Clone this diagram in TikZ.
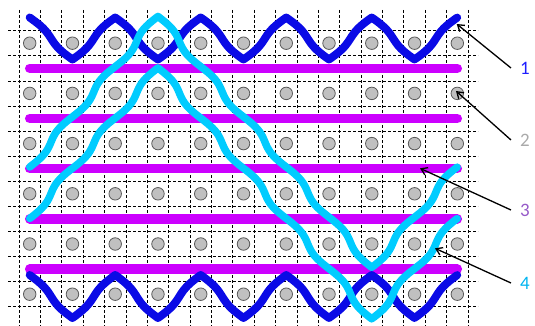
\documentclass[tikz,border=0pt]{standalone}
\usepackage{fontspec}
\setmainfont{Carlito}
\usetikzlibrary{arrows.meta}
\definecolor{thrblue}{RGB}{10,10,230}
\definecolor{thrcyan}{RGB}{0,204,255}
\definecolor{thrpurple}{RGB}{204,0,255}
\definecolor{pinfill}{RGB}{192,192,192}
\definecolor{pinline}{RGB}{90,90,90}
\definecolor{labone}{RGB}{30,30,255}
\definecolor{labtwo}{RGB}{170,170,170}
\definecolor{labthree}{RGB}{150,90,200}
\definecolor{labfour}{RGB}{0,180,240}
\begin{document}
\begin{tikzpicture}[x=1pt,y=-1pt,
  gridline/.style={black, dash pattern=on 3pt off 2pt, line width=0.7pt},
  pin/.style={circle, fill=pinfill, draw=pinline, line width=0.8pt, minimum size=12.5pt, inner sep=0pt},
  weft/.style={thrpurple, line width=9.5pt, line cap=round},
  bluethread/.style={thrblue, line width=8pt, line cap=round, line join=round},
  cyanthread/.style={thrcyan, line width=7.5pt, line cap=round, line join=round},
  lab/.style={font=\fontsize{19}{22}\selectfont, inner sep=9pt},
  pointer/.style={black, line width=1.3pt, -{Straight Barb[length=6pt,width=8pt]}}
]
\useasboundingbox (0,0) rectangle (535,326);
\def\wigb{2.5}
\def\wigc{3.5}
% grid
\foreach \i in {0,...,21} {
  \draw[gridline] ({19+21.38*\i},10) -- ({19+21.38*\i},326);
}
\foreach \k in {0,...,11} {
  \draw[gridline] (8,{30.7+25.09*\k}) -- (478,{30.7+25.09*\k});
}
% pins
\foreach \m in {0,...,5} {
  \foreach \j in {0,...,10} {
    \node[pin] (c-\m-\j) at ({29.7+42.76*\j},{43.2+50.2*\m}) {};
  }
}
% weft lines
\foreach \m in {0,...,4} {
  \draw[weft] (29.7,{68.3+50.2*\m}) -- (457.3,{68.3+50.2*\m});
}
% blue threads
\draw[bluethread] plot[domain=0:10, samples=201, variable=\u]
  ({29.7+42.76*\u+\wigb*sin(360*\u)}, {17.5+42*abs(mod(\u+1,2)-1)});
\draw[bluethread] plot[domain=0:10, samples=201, variable=\u]
  ({29.7+42.76*\u+\wigb*sin(360*\u)}, {275+43*abs(mod(\u+1,2)-1)});
% cyan threads
\draw[cyanthread] plot[domain=0:10, samples=201, variable=\u]
  ({29.7+42.76*\u+\wigc*sin(360*\u)}, {167-50.2*\u+100.4*max(0,\u-3)-100.4*max(0,\u-8)});
\draw[cyanthread] plot[domain=0:10, samples=201, variable=\u]
  ({29.7+42.76*\u+\wigc*sin(360*\u)}, {218.5-50.2*\u+100.4*max(0,\u-3)-100.4*max(0,\u-8)});
% labels
\node[lab, text=labone] (l1) at (525,68) {1};
\node[lab, text=labtwo] (l2) at (525,140) {2};
\node[lab, text=labthree] (l3) at (525,210) {3};
\node[lab, text=labfour] (l4) at (525,283) {4};
\coordinate (p1) at (456.7,24);
\coordinate (p2) at (456,91);
\coordinate (p3) at (420,168.3);
\coordinate (p4) at (435,248.3);
\draw[pointer] (l1.west) -- (p1);
\draw[pointer] (l2.west) -- (p2);
\draw[pointer] (l3.west) -- (p3);
\draw[pointer] (l4.west) -- (p4);
\end{tikzpicture}
\end{document}
